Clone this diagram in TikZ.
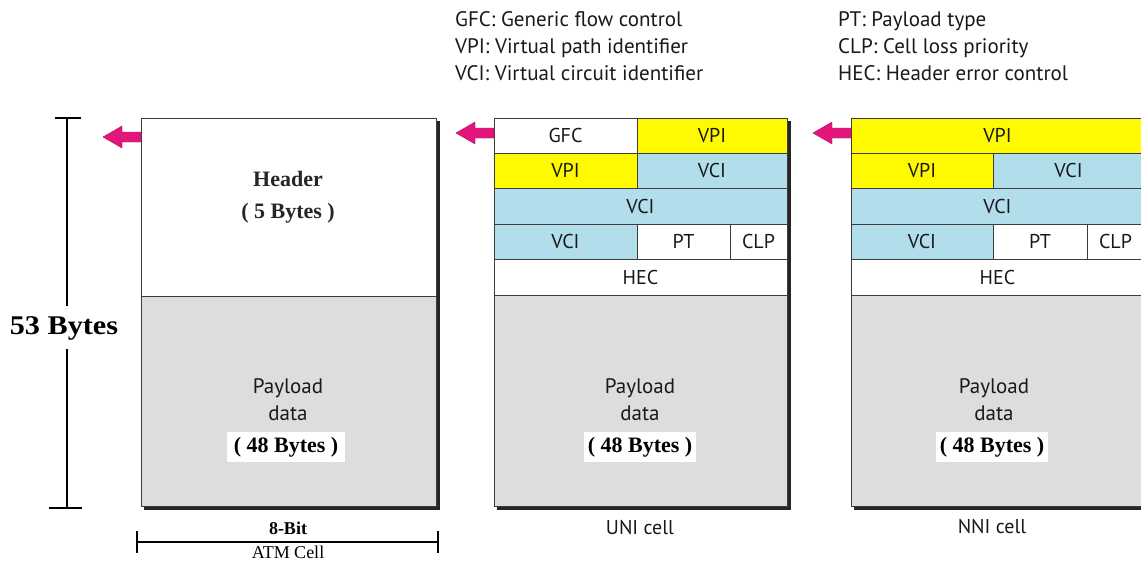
\documentclass[tikz,border=0pt]{standalone}
\usepackage{fontspec}
\setmainfont{Liberation Serif}
\setsansfont{PT Sans}

\definecolor{vpiyellow}{RGB}{255,250,0}
\definecolor{vciblue}{RGB}{178,222,236}
\definecolor{paygray}{RGB}{221,221,221}
\definecolor{flagpink}{RGB}{228,22,124}
\definecolor{linegray}{RGB}{60,60,60}

\tikzset{
  cellbox/.style={draw=linegray, line width=1pt},
  boxshadow/.style={fill=black!85},
  fieldtxt/.style={font=\sffamily\fontsize{20}{20}\selectfont, text=black!90, inner sep=0pt},
  paytxt/.style={font=\sffamily\fontsize{21}{21}\selectfont, text=black!90, inner sep=0pt},
  bytetag/.style={font=\bfseries\fontsize{22}{22}\selectfont, fill=white, minimum width=112pt, minimum height=30pt, inner sep=0pt},
  hdrtxt/.style={font=\bfseries\fontsize{22}{22}\selectfont, text=black!85, inner sep=0pt},
  legend/.style={font=\sffamily\fontsize{21}{21}\selectfont, anchor=base west, inner sep=0pt, text=black!90},
  caption/.style={font=\sffamily\fontsize{20}{20}\selectfont, inner sep=0pt, text=black!90},
  dimline/.style={line width=2.4pt},
  flag/.style={fill=flagpink, draw=flagpink!75!black, line width=0.4pt},
}

% left-pointing block arrow whose tail sits on the given coordinate
\newcommand\flagarrow[1]{%
  \path[flag] (#1) ++(0,-5) -- ++(-19,0) -- ++(0,-6) -- ++(-19,11)
    -- ++(19,11) -- ++(0,-6) -- ++(19,0) -- cycle;}

\begin{document}
\begin{tikzpicture}[x=1pt,y=-1pt]
\useasboundingbox (0,0) rectangle (1141,562);
\clip (0,0) rectangle (1141,562);
\fill[white] (0,0) rectangle (1141,562);

% ---------- legend ----------
\node[legend] (lg1) at (455,26) {GFC: Generic flow control};
\node[legend] (lg2) at (455,53) {VPI: Virtual path identifier};
\node[legend] (lg3) at (455,80) {VCI: Virtual circuit identifier};
\node[legend] (lg4) at (838,26) {PT: Payload type};
\node[legend] (lg5) at (838,53) {CLP: Cell loss priority};
\node[legend] (lg6) at (838,80) {HEC: Header error control};

% ---------- generic ATM cell ----------
\fill[boxshadow] (144,121) rectangle (440,510);
\draw[cellbox, fill=white] (141,118) rectangle (436,296);
\draw[cellbox, fill=paygray] (141,296) rectangle (436,506);
\node[hdrtxt] (atm-h1) at (288,179) {Header};
\node[hdrtxt] (atm-h2) at (288,213) {( 5 Bytes )};
\node[paytxt] (atm-p1) at (288,388) {Payload};
\node[paytxt] (atm-p2) at (288,413) {data};
\node[bytetag, minimum width=118pt] (atm-p3) at (286,447) {( 48 Bytes )};
\coordinate (atm-tail) at (141,137);
\flagarrow{atm-tail}

% total length
\coordinate (lentop) at (67,118);
\coordinate (lenbot) at (67,508);
\node[font=\bfseries\fontsize{27}{27}\selectfont, inner sep=0pt] (len) at (64,328) {\scalebox{1.12}[1]{53 Bytes}};
\draw[dimline] (lentop) -- (lentop |- 0,306);
\draw[dimline] (lenbot |- 0,349) -- (lenbot);
\draw[dimline] ([xshift=-12pt]lentop) -- ([xshift=14pt]lentop);
\draw[dimline] ([xshift=-18pt]lenbot) -- ([xshift=15pt]lenbot);

% width
\coordinate (wl) at (137,542);
\coordinate (wr) at (438,542);
\draw[line width=2pt] (wl) -- (wr);
\draw[line width=2pt] ([yshift=-11pt]wl) -- ([yshift=11pt]wl);
\draw[line width=2pt] ([yshift=-11pt]wr) -- ([yshift=11pt]wr);
\node[font=\bfseries\fontsize{18}{18}\selectfont, inner sep=0pt] (wbits) at (288,528) {8-Bit};
\node[font=\fontsize{18}{18}\selectfont, inner sep=0pt, fill=white, inner xsep=2pt, anchor=base] (wname) at (288,558) {ATM Cell};

% ---------- UNI cell ----------
\fill[boxshadow] (497,121) rectangle (791,510);
\draw[cellbox, fill=white]      (494,118) rectangle node[fieldtxt] (uni-gfc) {GFC} (637,153);
\draw[cellbox, fill=vpiyellow]  (637,118) rectangle node[fieldtxt] (uni-vpi1) {VPI} (787,153);
\draw[cellbox, fill=vpiyellow]  (494,153) rectangle node[fieldtxt] (uni-vpi2) {VPI} (637,188);
\draw[cellbox, fill=vciblue]    (637,153) rectangle node[fieldtxt] (uni-vci1) {VCI} (787,188);
\draw[cellbox, fill=vciblue]    (494,188) rectangle node[fieldtxt] (uni-vci2) {VCI} (787,224);
\draw[cellbox, fill=vciblue]    (494,224) rectangle node[fieldtxt] (uni-vci3) {VCI} (637,259);
\draw[cellbox, fill=white]      (637,224) rectangle node[fieldtxt] (uni-pt) {PT} (730,259);
\draw[cellbox, fill=white]      (730,224) rectangle node[fieldtxt] (uni-clp) {CLP} (787,259);
\draw[cellbox, fill=white]      (494,259) rectangle node[fieldtxt] (uni-hec) {HEC} (787,295);
\draw[cellbox, fill=paygray]    (494,295) rectangle (787,506);
\node[paytxt] (uni-p1) at (640,388) {Payload};
\node[paytxt] (uni-p2) at (640,413) {data};
\node[bytetag, minimum width=112pt] (uni-p3) at (640,447) {( 48 Bytes )};
\node[caption] (uni-cap) at (640,528) {UNI cell};
\coordinate (uni-tail) at (494,133);
\flagarrow{uni-tail}

% ---------- NNI cell ----------
\fill[boxshadow] (854,121) rectangle (1148,510);
\draw[cellbox, fill=vpiyellow]  (851,118) rectangle node[fieldtxt] (nni-vpi1) {VPI} (1144,153);
\draw[cellbox, fill=vpiyellow]  (851,153) rectangle node[fieldtxt] (nni-vpi2) {VPI} (993,188);
\draw[cellbox, fill=vciblue]    (993,153) rectangle node[fieldtxt] (nni-vci1) {VCI} (1144,188);
\draw[cellbox, fill=vciblue]    (851,188) rectangle node[fieldtxt] (nni-vci2) {VCI} (1144,224);
\draw[cellbox, fill=vciblue]    (851,224) rectangle node[fieldtxt] (nni-vci3) {VCI} (993,259);
\draw[cellbox, fill=white]      (993,224) rectangle node[fieldtxt] (nni-pt) {PT} (1087,259);
\draw[cellbox, fill=white]      (1087,224) rectangle node[fieldtxt] (nni-clp) {CLP} (1144,259);
\draw[cellbox, fill=white]      (851,259) rectangle node[fieldtxt] (nni-hec) {HEC} (1144,295);
\draw[cellbox, fill=paygray]    (851,295) rectangle (1144,506);
\node[paytxt] (nni-p1) at (994,388) {Payload};
\node[paytxt] (nni-p2) at (994,413) {data};
\node[bytetag, minimum width=112pt] (nni-p3) at (992,447) {( 48 Bytes )};
\node[caption] (nni-cap) at (992,527) {NNI cell};
\coordinate (nni-tail) at (851,133);
\flagarrow{nni-tail}
\end{tikzpicture}
\end{document}
